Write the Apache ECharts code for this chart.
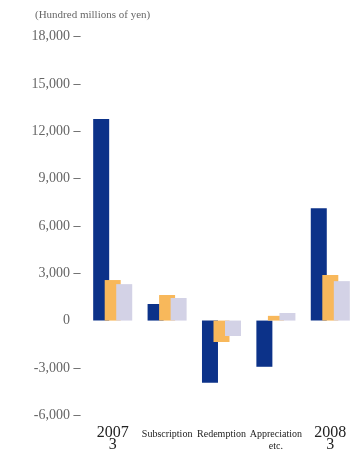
<!DOCTYPE html>
<html><head><meta charset="utf-8">
<script src="https://cdn.jsdelivr.net/npm/echarts@6/dist/echarts.min.js"></script>
<style>html,body{margin:0;padding:0;background:#fff;overflow:hidden;width:351px;height:451px}#c{width:362px;height:451px}</style>
</head><body><div id="c"></div>
<script>
const categories = ['2007\n3', 'Subscription', 'Redemption', 'Appreciation\netc.', '2008\n3'];
const seriesA = [12780, 1050, -3950, -2930, 7130];
const seriesB = [2570, 1620, -1360, 300, 2890];
const seriesC = [2310, 1430, -980, 480, 2500];
const yTicks = [-6000, -3000, 0, 3000, 6000, 9000, 12000, 15000, 18000];
const unitLabel = '(Hundred millions of yen)';

const chart = echarts.init(document.getElementById('c'));
const serif = '"Liberation Serif", "DejaVu Serif", serif';
function fmt(v){
  const s = Math.abs(v).toLocaleString('en-US');
  return (v < 0 ? '-' : '') + s;
}
const bar = (data, color) => ({
  type: 'bar', data, barWidth: 16, barGap: '-28%',
  itemStyle: { color }, animation: false
});
chart.setOption({
  animation: false,
  graphic: [{ type: 'text', left: 35, top: 10,
    style: { text: unitLabel, font: '11px ' + serif, fill: '#666' } }],
  grid: { left: 85.5, width: 272, top: 36.7, height: 378.5, outerBoundsMode: 'none', containLabel: false },
  xAxis: {
    type: 'category', data: categories,
    axisLine: { show: false }, axisTick: { show: false },
    axisLabel: {
      interval: 0, margin: 12,
      formatter: v => /^\d{4}/.test(v) ? '{big|' + v.replace('\n', '}\n{big|') + '}' : '{small|' + v.replace('\n', '}\n{small|') + '}',
      rich: {
        big: { fontFamily: serif, fontSize: 16, lineHeight: 12, color: '#222' },
        small: { fontFamily: serif, fontSize: 10, lineHeight: 12, color: '#222', padding: [3, 0, 0, 0] }
      }
    }
  },
  yAxis: {
    type: 'value', min: yTicks[0], max: yTicks[yTicks.length - 1], interval: 3000,
    axisLine: { show: false }, axisTick: { show: false }, splitLine: { show: false },
    axisLabel: {
      margin: 5,
      formatter: v => v === 0 ? '{n|0}{h| –}' : '{n|' + fmt(v) + '}{d| –}',
      rich: {
        n: { fontFamily: serif, fontSize: 14, color: '#666' },
        d: { fontFamily: serif, fontSize: 14, color: '#444' },
        h: { fontFamily: serif, fontSize: 14, color: 'rgba(0,0,0,0)' }
      }
    }
  },
  series: [bar(seriesA, '#0c3289'), bar(seriesB, '#f8b85b'), bar(seriesC, '#d3d2e6')]
});
</script></body></html>
